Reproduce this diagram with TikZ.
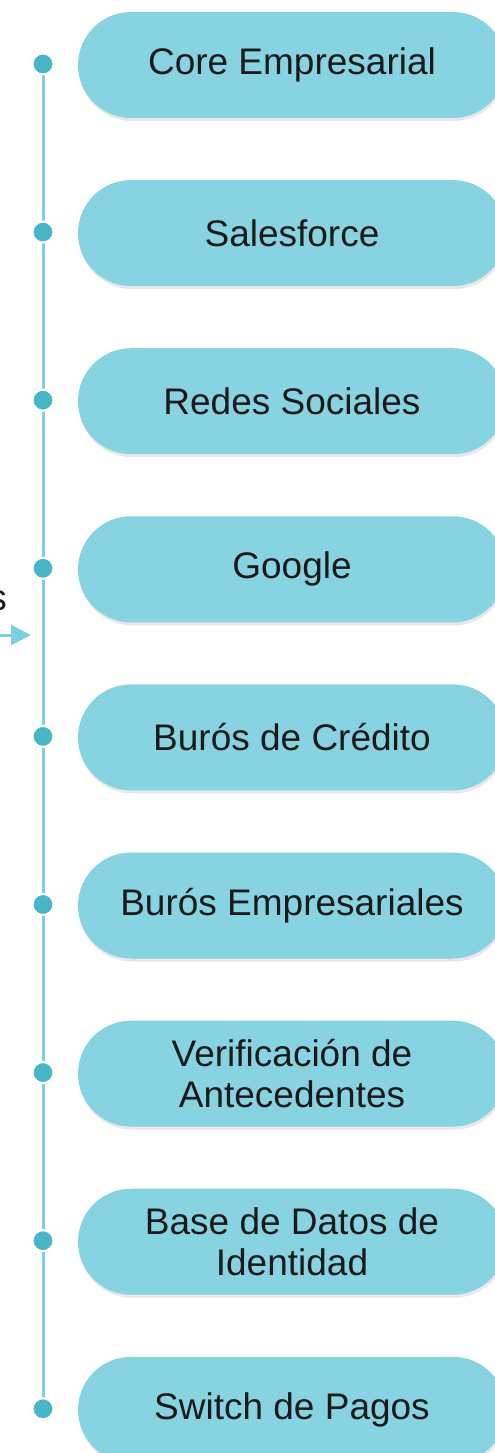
\documentclass[tikz,border=0pt]{standalone}
\usepackage{fontspec}
\setmainfont{Liberation Sans}
\usepackage{tikz}
\usetikzlibrary{arrows.meta,positioning,shadows,backgrounds}

\definecolor{cajafondo}{HTML}{88D3E2}
\definecolor{lineacol}{HTML}{7FCFDF}
\definecolor{puntocol}{HTML}{48B6C8}
\definecolor{textocol}{HTML}{1A1A1A}

\tikzset{
  caja/.style={rectangle, rounded corners=53pt, fill=cajafondo,
    minimum width=428pt, minimum height=106pt, inner sep=0pt,
    align=center, text=textocol,
    font=\fontsize{37}{41}\selectfont,
    drop shadow={opacity=0.18, shadow xshift=1pt, shadow yshift=-3pt}},
  punto/.style={circle, fill=puntocol, draw=white, line width=2pt,
    minimum size=21pt, inner sep=0pt,
    drop shadow={opacity=0.15, shadow xshift=0pt, shadow yshift=-1pt}},
}

\begin{document}
\begin{tikzpicture}[x=1pt,y=-1pt]
  \useasboundingbox (0,0) rectangle (495,1453);

  %boxes and dots
  \foreach \txt [count=\i] in {Core Empresarial, Salesforce, Redes Sociales,
      Google, {Burós de Crédito}, {Burós Empresariales},
      {Verificación de\\Antecedentes}, {Base de Datos de\\Identidad},
      {Switch de Pagos}}
  {
    \node[caja] (b\i) at (292,{65+168.1*(\i-1)}) {\txt};
    \node[punto] (p\i) at (43,{64+168.1*(\i-1)}) {};
  }

  %vertical line
  \begin{scope}[on background layer]
    \draw[lineacol, line width=3pt] (p1.center) -- (p9.center);
  \end{scope}

  %left label and arrow
  \node[anchor=base east, inner sep=0pt, text=textocol,
        font=\fontsize{37}{41}\selectfont] (lbl) at (7,610) {s};
  \coordinate (ini) at (-5,635);
  \coordinate (fin) at (31,635);
  \draw[lineacol, line width=3pt, -{Triangle[length=20pt,width=20pt]}] (ini) -- (fin);

\end{tikzpicture}
\end{document}
